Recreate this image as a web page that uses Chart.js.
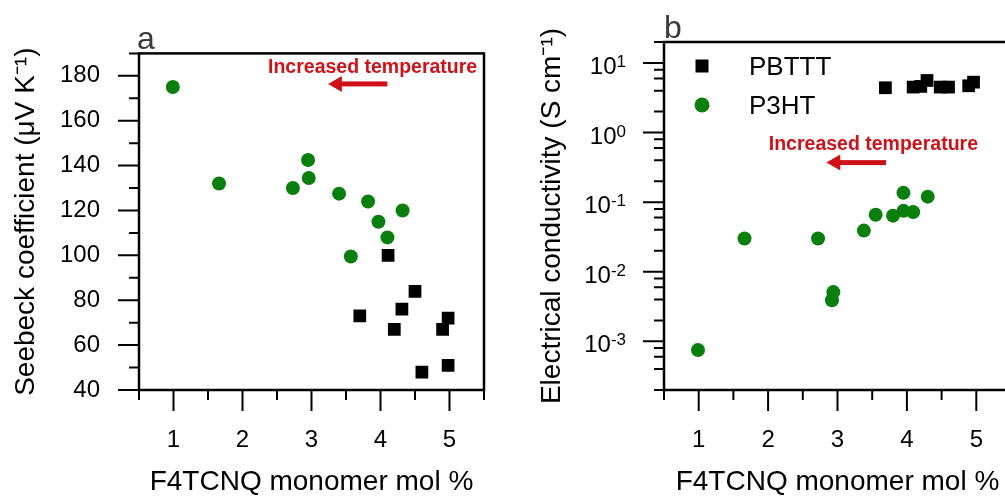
<!DOCTYPE html>
<html>
<head>
<meta charset="utf-8">
<script src="https://cdn.jsdelivr.net/npm/chart.js@4/dist/chart.umd.min.js"></script>
<style>
  html, body { margin: 0; padding: 0; background: #fff; overflow: hidden; }
  body { width: 1005px; height: 496px; position: relative; }
  #boxA { position: absolute; left: 0; top: 0; width: 500px; height: 496px; }
  #boxB { position: absolute; left: 500px; top: 0; width: 520px; height: 496px; }
</style>
</head>
<body>
<div id="boxA"><canvas id="chartA" width="500" height="496"></canvas></div>
<div id="boxB"><canvas id="chartB" width="520" height="496"></canvas></div>
<script>
// Panel a: Seebeck coefficient vs F4TCNQ mol %
const p3htMolA = [0.99, 1.66, 2.73, 2.95, 2.96, 3.40, 3.57, 3.82, 3.97, 4.10, 4.32];
const p3htSeebeck = [175, 132, 130, 142.5, 134.5, 127.5, 99.5, 124, 115, 108, 120];
const pbtttMolA = [3.70, 4.11, 4.20, 4.31, 4.50, 4.60, 4.90, 4.98, 4.98];
const pbtttSeebeck = [73, 100, 67, 76, 84, 48, 67, 72, 51];

// Panel b: conductivity vs F4TCNQ mol %
const p3htMolB = [0.99, 1.66, 2.72, 2.92, 2.94, 3.38, 3.55, 3.80, 3.95, 3.95, 4.09, 4.30];
const p3htCond = [0.00075, 0.030, 0.030, 0.0039, 0.0051, 0.039, 0.066, 0.064, 0.136, 0.075, 0.072, 0.12];
const pbtttMolB = [3.69, 4.09, 4.20, 4.29, 4.48, 4.60, 4.89, 4.96];
const pbtttCond = [4.4, 4.5, 4.6, 5.6, 4.5, 4.5, 4.7, 5.3];

// ticks
const molTicks = [1, 2, 3, 4, 5];
const molMinor = [0.5, 1.5, 2.5, 3.5, 4.5, 5.5];
const seebeckTicks = [40, 60, 80, 100, 120, 140, 160, 180];
const seebeckMinor = [50, 70, 90, 110, 130, 150, 170, 190];
const condTicks = [0.001, 0.01, 0.1, 1, 10];
const condExp = ['-3', '-2', '-1', '0', '1'];
const condMinor = [0.0002, 0.0004, 0.0006, 0.0008, 0.002, 0.004, 0.006, 0.008,
  0.02, 0.04, 0.06, 0.08, 0.2, 0.4, 0.6, 0.8, 2, 4, 6, 8, 20];

const seriesNames = ['PBTTT', 'P3HT'];
const FONT = "'Liberation Sans', Arial, sans-serif";
const GREEN = '#0b7f0e';
const RED = '#cf1218';

Chart.defaults.font.family = FONT;
Chart.defaults.color = '#000';

function pts(xs, ys) {
  return xs.map((x, i) => ({ x: x, y: ys[i] }));
}

//Draws the frame, the outward tick marks, the panel letter and the red arrow
const decorations = {
  id: 'decorations',
  afterDraw(chart, args, opts) {
    const ctx = chart.ctx;
    const a = chart.chartArea;
    const xs = chart.scales.x, ys = chart.scales.y;
    ctx.save();
    ctx.strokeStyle = '#000';
    ctx.lineWidth = 2;
    ctx.beginPath();
    opts.xMajor.forEach(v => { const p = xs.getPixelForValue(v); ctx.moveTo(p, a.bottom); ctx.lineTo(p, a.bottom + 21); });
    opts.xMinor.forEach(v => { const p = xs.getPixelForValue(v); ctx.moveTo(p, a.bottom); ctx.lineTo(p, a.bottom + 10); });
    opts.yMajor.forEach(v => { const p = ys.getPixelForValue(v); ctx.moveTo(a.left, p); ctx.lineTo(a.left - 21, p); });
    opts.yMinor.forEach(v => { const p = ys.getPixelForValue(v); ctx.moveTo(a.left, p); ctx.lineTo(a.left - 10, p); });
    ctx.stroke();

    ctx.lineWidth = 2.5;
    ctx.strokeRect(a.left, a.top, a.right - a.left, a.bottom - a.top);

    //power-of-ten labels with a raised exponent (log axis)
    if (opts.powers) {
      ctx.fillStyle = '#000';
      ctx.textAlign = 'right';
      ctx.textBaseline = 'alphabetic';
      const right = a.left - 38;
      opts.yMajor.forEach((v, i) => {
        const p = ys.getPixelForValue(v);
        const ex = opts.powers[i];
        ctx.font = '17px ' + FONT;
        const w = ctx.measureText(ex).width;
        ctx.fillText(ex, right, p + 4);
        ctx.font = '24px ' + FONT;
        ctx.fillText('10', right - w, p + 11);
      });
    }

    //panel letter
    ctx.fillStyle = '#3a3a3a';
    ctx.font = '32px ' + FONT;
    ctx.textAlign = 'left';
    ctx.textBaseline = 'alphabetic';
    ctx.fillText(opts.letter, a.left + opts.letterDx, a.top - 4);

    //"Increased temperature" arrow
    const t = opts.temp;
    ctx.fillStyle = RED;
    ctx.font = 'bold 19.5px ' + FONT;
    ctx.fillText('Increased temperature', xs.getPixelForValue(t.textX), ys.getPixelForValue(t.textY));
    const tip = xs.getPixelForValue(t.tipX);
    const base = xs.getPixelForValue(t.headX);
    const tail = xs.getPixelForValue(t.tailX);
    const ay = ys.getPixelForValue(t.arrowY);
    ctx.fillRect(base - 1, ay - 2.5, tail - base + 1, 5);
    ctx.beginPath();
    ctx.moveTo(tip, ay);
    ctx.lineTo(base, ay - 8);
    ctx.lineTo(base, ay + 8);
    ctx.closePath();
    ctx.fill();

    //legend (panel b only)
    if (opts.legend) {
      const lx = a.left + 38;
      chart.data.datasets.forEach((ds, i) => {
        const ly = a.top + 24 + i * 39;
        ctx.fillStyle = ds.backgroundColor;
        if (ds.pointStyle === 'rect') {
          ctx.fillRect(lx - 6.5, ly - 6.5, 13, 13);
        } else {
          ctx.beginPath();
          ctx.arc(lx, ly, 7.5, 0, Math.PI * 2);
          ctx.fill();
        }
        ctx.fillStyle = '#000';
        ctx.font = '26px ' + FONT;
        ctx.textBaseline = 'middle';
        ctx.fillText(ds.label, a.left + 85, ly + 2);
      });
    }
    ctx.restore();
  }
};

function makeChart(id, cfg) {
  return new Chart(document.getElementById(id), {
    type: 'scatter',
    data: {
      datasets: [
        { label: seriesNames[0], data: cfg.pbttt, pointStyle: 'rect', pointRadius: 9, pointHoverRadius: 9,
          backgroundColor: '#000', borderWidth: 0 },
        { label: seriesNames[1], data: cfg.p3ht, pointStyle: 'circle', pointRadius: 7, pointHoverRadius: 7,
          backgroundColor: GREEN, borderWidth: 0 }
      ]
    },
    options: {
      responsive: false,
      animation: false,
      layout: { padding: { top: 42, right: cfg.padRight, left: 0, bottom: 0 } },
      plugins: {
        legend: { display: false },
        tooltip: { enabled: false },
        decorations: cfg.deco
      },
      scales: {
        x: {
          type: 'linear', min: 0.5, max: 5.5,
          afterBuildTicks: s => { s.ticks = molTicks.map(v => ({ value: v })); },
          afterFit: s => { s.height = 106; },
          grid: { display: false, drawTicks: false },
          border: { display: false },
          ticks: { padding: 36, font: { size: 24 }, autoSkip: false, maxRotation: 0 },
          title: { display: true, text: 'F4TCNQ monomer mol %', font: { size: 28, lineHeight: 1 }, padding: 0 }
        },
        y: cfg.y
      }
    },
    plugins: [decorations]
  });
}

makeChart('chartA', {
  pbttt: pts(pbtttMolA, pbtttSeebeck),
  p3ht: pts(p3htMolA, p3htSeebeck),
  padRight: 16,
  deco: {
    xMajor: molTicks, xMinor: molMinor, yMajor: seebeckTicks, yMinor: seebeckMinor,
    letter: 'a', letterDx: -2, legend: false,
    temp: { textX: 2.37, textY: 181.2, tipX: 3.24, headX: 3.44, tailX: 4.10, arrowY: 176.4 }
  },
  y: {
    type: 'linear', min: 40, max: 190,
    afterBuildTicks: s => { s.ticks = seebeckTicks.map(v => ({ value: v })); },
    afterFit: s => { s.width = 139; },
    grid: { display: false, drawTicks: false },
    border: { display: false },
    ticks: { padding: 39, font: { size: 24 } },
    title: { display: true, text: 'Seebeck coefficient (μV K⁻¹)', font: { size: 28 }, padding: { top: 9 } }
  }
});

makeChart('chartB', {
  pbttt: pts(pbtttMolB, pbtttCond),
  p3ht: pts(p3htMolB, p3htCond),
  padRight: 9,
  deco: {
    xMajor: molTicks, xMinor: molMinor, yMajor: condTicks, yMinor: condMinor,
    powers: condExp,
    letter: 'b', letterDx: 0, legend: true,
    temp: { textX: 2.01, textY: 0.56, tipX: 2.84, headX: 3.04, tailX: 3.70, arrowY: 0.37 }
  },
  y: {
    type: 'logarithmic', min: 0.0002, max: 20,
    afterBuildTicks: s => { s.ticks = condTicks.map(v => ({ value: v })); },
    afterFit: s => { s.width = 164; },
    grid: { display: false, drawTicks: false },
    border: { display: false },
    ticks: { display: false },
    title: { display: true, text: 'Electrical conductivity (S cm⁻¹)', font: { size: 28 }, padding: { top: 35 } }
  }
});
</script>
</body>
</html>
